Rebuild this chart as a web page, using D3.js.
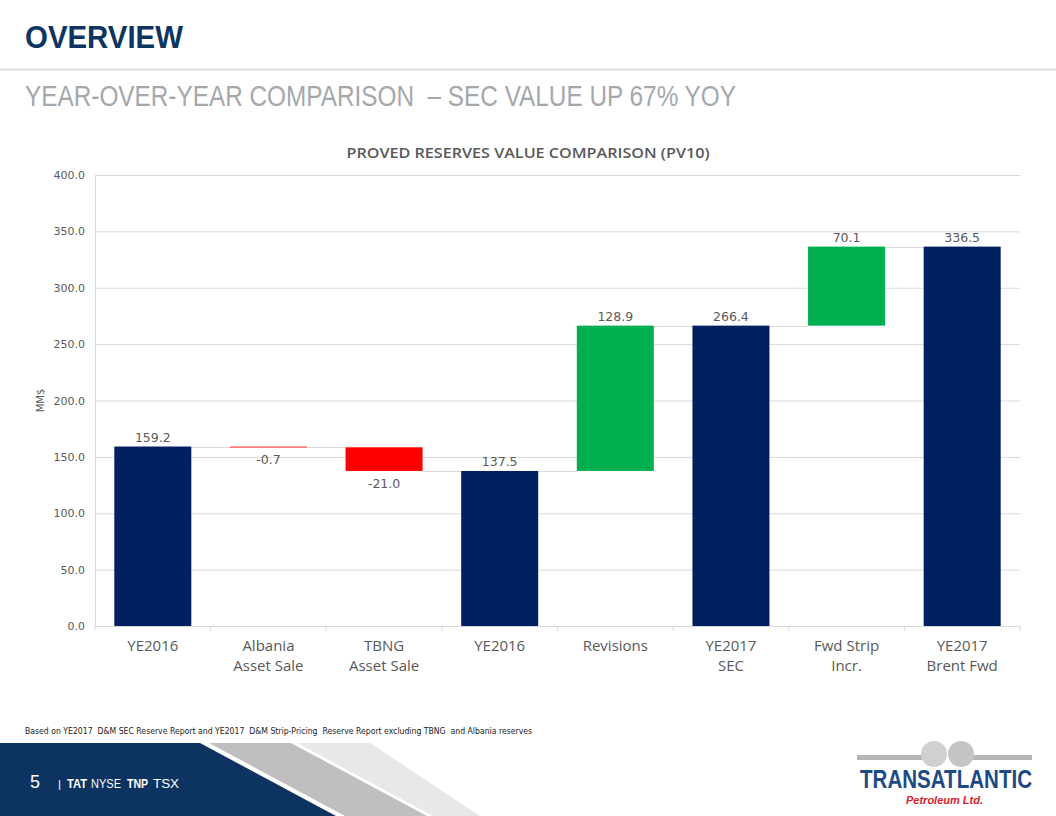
<!DOCTYPE html>
<html><head><meta charset="utf-8">
<script src="https://cdn.jsdelivr.net/npm/d3@7"></script>
<style>html,body{margin:0;padding:0;background:#fff;}svg{display:block;}</style>
</head><body>
<svg id="chart" width="1056" height="816"></svg>
<script>
const categories = ["YE2016 (a)", "Albania Asset Sale", "TBNG Asset Sale", "YE2016 (b)", "Revisions", "YE2017 SEC", "Fwd Strip Incr.", "YE2017 Brent Fwd"];
const categoryLines = [["YE2016"], ["Albania", "Asset Sale"], ["TBNG", "Asset Sale"], ["YE2016"], ["Revisions"], ["YE2017", "SEC"], ["Fwd Strip", "Incr."], ["YE2017", "Brent Fwd"]];
const values = [159.2, -0.7, -21.0, 137.5, 128.9, 266.4, 70.1, 336.5];
const kinds = ["total", "delta", "delta", "total", "delta", "total", "delta", "total"];
const yTicks = [0, 50, 100, 150, 200, 250, 300, 350, 400];

(function () {
const svg = d3.select("#chart");
const navy = "#002060", green = "#00b050", red = "#ff0000";
const txt = "#595959";
const fmt = (v) => d3.format(".1f")(v).replace("\u2212", "-");

// ---- header ----
svg.append("text").attr("x", 25).attr("y", 48).attr("textLength", 158).attr("lengthAdjust", "spacingAndGlyphs")
  .style("font-family", "'Liberation Sans Narrow','Liberation Sans',Arial,sans-serif").style("font-weight", "bold")
  .style("font-size", "32px").style("fill", "#0e3461").text("OVERVIEW");
svg.append("rect").attr("x", 0).attr("y", 68.5).attr("width", 1056).attr("height", 2).attr("fill", "#dcdcdc");
svg.append("text").attr("x", 25).attr("y", 106).attr("textLength", 711).attr("lengthAdjust", "spacingAndGlyphs")
  .style("white-space", "pre")
  .style("font-family", "'Liberation Sans Narrow','Liberation Sans',Arial,sans-serif")
  .style("font-size", "29px").style("fill", "#a5a8ab").text("YEAR-OVER-YEAR COMPARISON  \u2013 SEC VALUE UP 67% YOY");

// ---- chart ----
const pLeft = 95, pRight = 1020, pTop = 175, pBottom = 626;
const x = d3.scaleBand().domain(categories).range([pLeft, pRight]).paddingInner(0.334).paddingOuter(0.167);
const y = d3.scaleLinear().domain([0, 400]).range([pBottom, pTop]);

svg.append("text").attr("x", 528).attr("y", 158).attr("text-anchor", "middle")
  .attr("textLength", 363).attr("lengthAdjust", "spacingAndGlyphs")
  .style("font-family", "'Open Sans','Noto Sans',sans-serif").style("font-size", "15px").style("font-weight", "600")
  .style("fill", txt).text("PROVED RESERVES VALUE COMPARISON (PV10)");

const yAxis = svg.append("g").attr("transform", `translate(${pLeft},0)`)
  .call(d3.axisLeft(y).tickValues(yTicks).tickFormat(fmt).tickSize(-(pRight - pLeft)).tickPadding(10));
yAxis.select(".domain").remove();
yAxis.selectAll(".tick line").attr("stroke", "#d9d9d9").attr("stroke-width", 1);
yAxis.selectAll(".tick text").style("font-family", "'DejaVu Sans',Verdana,sans-serif").style("font-size", "11px").attr("fill", txt);
svg.append("line").attr("x1", pLeft + 0.5).attr("x2", pLeft + 0.5).attr("y1", pTop).attr("y2", pBottom).attr("stroke", "#d9d9d9");

svg.append("text").attr("transform", `translate(44,${(pTop + pBottom) / 2}) rotate(-90)`).attr("text-anchor", "middle")
  .style("font-family", "'DejaVu Sans',Verdana,sans-serif").style("font-size", "10px").style("fill", txt).text("MM$");

// waterfall computation
let running = 0;
const bars = values.map((v, i) => {
  let y0, y1;
  if (kinds[i] === "total") { y0 = 0; y1 = v; running = v; }
  else { y0 = running; y1 = running + v; running = y1; }
  return { cat: categories[i], v, kind: kinds[i], lo: Math.min(y0, y1), hi: Math.max(y0, y1), end: running };
});

// connectors
svg.append("g").selectAll("line").data(bars.slice(0, -1)).join("line")
  .attr("x1", (d) => x(d.cat) + x.bandwidth())
  .attr("x2", (d, i) => x(bars[i + 1].cat))
  .attr("y1", (d) => Math.round(y(d.end)) + 0.5).attr("y2", (d) => Math.round(y(d.end)) + 0.5)
  .attr("stroke", "#d9d9d9").attr("stroke-width", 1);

// bars
svg.append("g").selectAll("rect").data(bars).join("rect")
  .attr("x", (d) => x(d.cat)).attr("width", x.bandwidth())
  .attr("y", (d) => y(d.hi)).attr("height", (d) => Math.max(1.2, y(d.lo) - y(d.hi)))
  .attr("fill", (d) => d.kind === "total" ? navy : (d.v < 0 ? red : green))
  .attr("opacity", (d) => (d.kind === "delta" && Math.abs(d.v) < 2) ? 0.75 : 1);

// value labels
svg.append("g").selectAll("text").data(bars).join("text")
  .attr("x", (d) => x(d.cat) + x.bandwidth() / 2)
  .attr("y", (d) => d.v < 0 ? y(d.lo) + 17 : y(d.hi) - 5)
  .attr("text-anchor", "middle")
  .style("font-family", "'DejaVu Sans',Verdana,sans-serif").style("font-size", "12.5px").style("fill", txt)
  .text((d) => fmt(d.v));

// x axis
svg.append("line").attr("x1", pLeft).attr("x2", pRight).attr("y1", pBottom + 0.5).attr("y2", pBottom + 0.5).attr("stroke", "#d9d9d9");
const boundaries = d3.range(categories.length + 1).map((i) => pLeft + i * x.step());
svg.append("g").selectAll("line").data(boundaries).join("line")
  .attr("x1", (d) => d).attr("x2", (d) => d).attr("y1", pBottom).attr("y2", pBottom + 5).attr("stroke", "#d9d9d9");
const xl = svg.append("g").selectAll("text").data(categories).join("text")
  .attr("x", (d) => x(d) + x.bandwidth() / 2).attr("y", 651).attr("text-anchor", "middle")
  .style("font-family", "'Liberation Sans Narrow','Open Sans',sans-serif").style("font-size", "15px").style("fill", txt);
xl.each(function (d, i) {
  const t = d3.select(this);
  categoryLines[i].forEach((ln, j) => t.append("tspan").attr("x", x(d) + x.bandwidth() / 2).attr("dy", j === 0 ? 0 : 20).text(ln));
});

// footnote
svg.append("text").attr("x", 25).attr("y", 734).attr("textLength", 507).attr("lengthAdjust", "spacingAndGlyphs")
  .style("white-space", "pre")
  .style("font-family", "'DejaVu Sans',Verdana,sans-serif").style("font-size", "8px").style("fill", "#222")
  .text("Based on YE2017  D&M SEC Reserve Report and YE2017  D&M Strip-Pricing  Reserve Report excluding TBNG  and Albania reserves");

// footer band
svg.append("polygon").attr("points", "0,743 200,743 336,816 0,816").attr("fill", "#0d3461");
svg.append("polygon").attr("points", "209,743 291,743 427,816 345,816").attr("fill", "#bfbfbf");
svg.append("polygon").attr("points", "297,743 370,743 480,816 433,816").attr("fill", "#e8e8e8");

const footItems = [
  { t: "5", x: 30, w: 10, size: 19, bold: false },
  { t: "|", x: 58, w: 3, size: 11, bold: false },
  { t: "TAT", x: 67, w: 20, size: 12, bold: true },
  { t: "NYSE", x: 91, w: 30, size: 12, bold: false },
  { t: "TNP", x: 127, w: 21, size: 12, bold: true },
  { t: "TSX", x: 153, w: 26, size: 12, bold: false }
];
svg.append("g").selectAll("text").data(footItems).join("text")
  .attr("x", (d) => d.x).attr("y", 788)
  .attr("textLength", (d) => d.w).attr("lengthAdjust", "spacingAndGlyphs")
  .style("font-family", "'Liberation Sans',Arial,sans-serif").style("fill", "#fff")
  .style("font-size", (d) => d.size + "px").style("font-weight", (d) => d.bold ? "bold" : "normal")
  .text((d) => d.t);

// logo
const logo = svg.append("g");
logo.append("rect").attr("x", 857).attr("y", 755).attr("width", 66).attr("height", 5).attr("fill", "#b5b5b5");
logo.append("rect").attr("x", 972).attr("y", 755).attr("width", 60).attr("height", 5).attr("fill", "#b5b5b5");
logo.append("circle").attr("cx", 934).attr("cy", 754).attr("r", 13).attr("fill", "#d0d0d0");
logo.append("circle").attr("cx", 961).attr("cy", 754).attr("r", 13).attr("fill", "#c4c4c4");
logo.append("text").attr("transform", "translate(860,788) scale(1,1.25)").attr("x", 0).attr("y", 0)
  .attr("textLength", 172).attr("lengthAdjust", "spacingAndGlyphs")
  .style("font-family", "'Liberation Sans',Arial,sans-serif").style("font-weight", "bold")
  .style("font-size", "21px").style("fill", "#1d4b85").text("TRANSATLANTIC");
logo.append("text").attr("x", 906).attr("y", 804).attr("textLength", 77).attr("lengthAdjust", "spacingAndGlyphs")
  .style("font-family", "'Liberation Sans',Arial,sans-serif").style("font-weight", "bold").style("font-style", "italic")
  .style("font-size", "10px").style("fill", "#d3242b").text("Petroleum Ltd.");
})();
</script>
</body></html>
